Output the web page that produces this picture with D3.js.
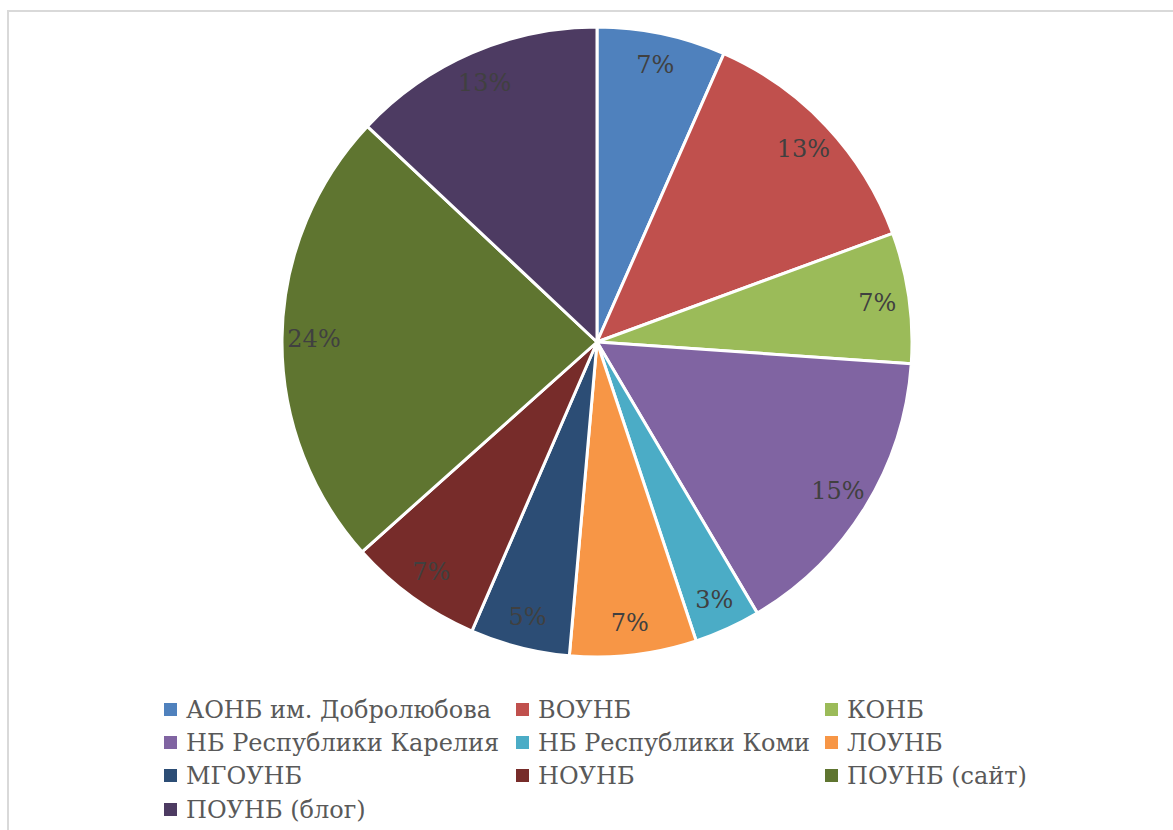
<!DOCTYPE html>
<html>
<head>
<meta charset="utf-8">
<script src="https://cdn.jsdelivr.net/npm/d3@7"></script>
<style>
  body { margin: 0; background: #fff; }
  svg { display: block; }
</style>
</head>
<body>
<svg width="1173" height="830"></svg>
<script>
// data (shares in %)
const categories = ['АОНБ им. Добролюбова', 'ВОУНБ', 'КОНБ', 'НБ Республики Карелия',
  'НБ Республики Коми', 'ЛОУНБ', 'МГОУНБ', 'НОУНБ', 'ПОУНБ (сайт)', 'ПОУНБ (блог)'];
const values = [6.6, 12.8, 6.7, 15.4, 3.4, 6.5, 5.1, 6.9, 23.6, 13.0];
const colors = ['#4f81bd', '#c0504d', '#9bbb59', '#8064a2', '#4bacc6',
  '#f79646', '#2c4d75', '#772c2a', '#5f7530', '#4d3b62'];

const svg = d3.select('svg');
const cx = 597, cy = 342, radius = 315;

svg.append('rect')
  .attr('x', 8).attr('y', 11)
  .attr('width', 1200).attr('height', 900)
  .attr('fill', '#fff')
  .attr('stroke', '#d9d9d9')
  .attr('stroke-width', 2);

const total = d3.sum(values);
const pie = d3.pie().sort(null).value(function(d) { return d; });
const arcs = pie(values);
const arc = d3.arc().innerRadius(0).outerRadius(radius);
const labelArc = d3.arc().innerRadius(283).outerRadius(283);

const g = svg.append('g')
  .attr('transform', 'translate(' + cx + ',' + cy + ')');

g.selectAll('path')
  .data(arcs)
  .enter().append('path')
    .attr('d', arc)
    .attr('fill', function(d, i) { return colors[i]; })
    .attr('stroke', '#fff')
    .attr('stroke-width', 3)
    .attr('stroke-linejoin', 'round');

g.selectAll('text.lbl')
  .data(arcs)
  .enter().append('text')
    .attr('class', 'lbl')
    .attr('transform', function(d) { return 'translate(' + labelArc.centroid(d) + ')'; })
    .attr('text-anchor', 'middle')
    .attr('dy', '0.35em')
    .style('font', '24px "DejaVu Serif", serif')
    .style('fill', '#404040')
    .text(function(d) { return Math.round(d.value / total * 100) + '%'; });

// legend, 3 columns
const colX = [164, 516, 825];
const rowY = [710, 743, 776, 810];
const legend = svg.append('g');
const item = legend.selectAll('g')
  .data(categories)
  .enter().append('g')
    .attr('transform', function(d, i) {
      return 'translate(' + colX[i % 3] + ',' + rowY[Math.floor(i / 3)] + ')';
    });

item.append('rect')
  .attr('x', 0).attr('y', -7)
  .attr('width', 13).attr('height', 13)
  .attr('fill', function(d, i) { return colors[i]; });

item.append('text')
  .attr('x', 22)
  .attr('dy', '0.35em')
  .style('font', '24px "DejaVu Serif", serif')
  .style('fill', '#595959')
  .text(function(d) { return d; });
</script>
</body>
</html>
